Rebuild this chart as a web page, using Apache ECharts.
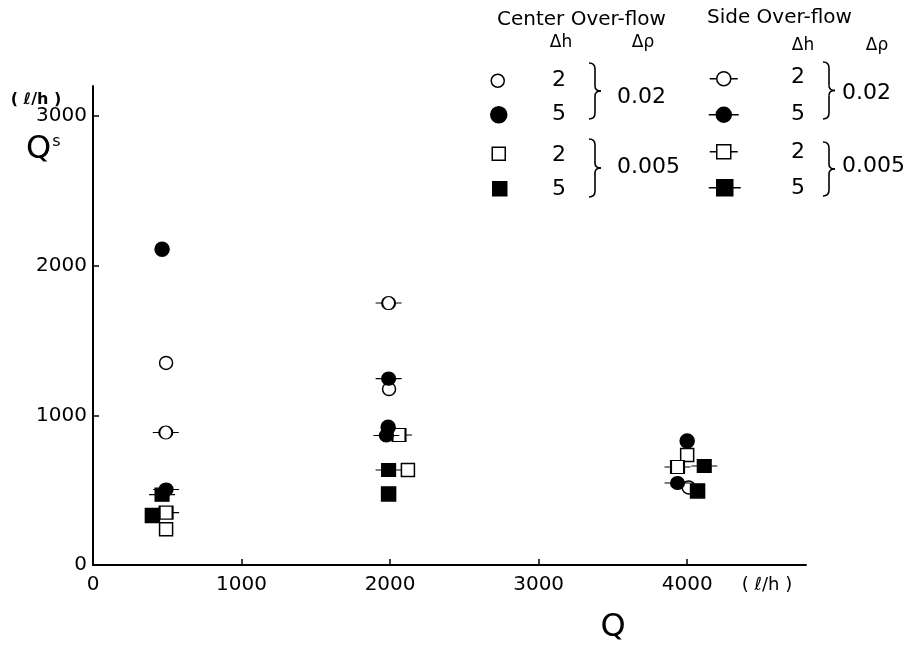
<!DOCTYPE html>
<html>
<head>
<meta charset="utf-8">
<script src="https://cdn.jsdelivr.net/npm/echarts@6/dist/echarts.min.js"></script>
<style>
  html, body { margin: 0; padding: 0; background: #fff; }
  #chart { width: 909px; height: 648px; }
</style>
</head>
<body>
<div id="chart"></div>
<script>
  // Q (l/h) , Qs (l/h)
  // Center Over-flow
  const cOpenCircle   = [[492, 1350], [1993, 1175], [4010, 518]];    // dh 2, drho 0.02
  const cFilledCircle = [[465, 2110], [1987, 920], [4000, 828]];     // dh 5, drho 0.02
  const cOpenSquare   = [[492, 238], [2120, 635], [4000, 735]];      // dh 2, drho 0.005
  const cFilledSquare = [[400, 330], [1990, 475], [4070, 495]];      // dh 5, drho 0.005
  // Side Over-flow
  const sOpenCircle   = [[490, 885], [1990, 1750]];
  const sFilledCircle = [[492, 505], [1990, 1245], [1975, 865], [3935, 548]];
  const sOpenSquare   = [[492, 350], [2060, 868], [3935, 655]];
  const sFilledSquare = [[465, 470], [1990, 635], [4115, 662]];

  const xTicks = [0, 1000, 2000, 3000, 4000];
  const yTicks = [0, 1000, 2000, 3000];

  const FONT = 'DejaVu Sans';
  // circle / square with a short tick on each side (side over-flow)
  const sideCircle = 'path://M0 6L6 6M18 6L24 6M6 6C6 2.686 8.686 0 12 0C15.314 0 18 2.686 18 6C18 9.314 15.314 12 12 12C8.686 12 6 9.314 6 6Z';
  const sideSquare = 'path://M0 6L6 6M18 6L24 6M6 0L18 0L18 12L6 12Z';

  function mk(name, data, symbol, size, filled) {
    return {
      type: 'scatter',
      name: name,
      data: data,
      symbol: symbol,
      symbolSize: size,
      itemStyle: { color: filled ? '#000' : '#fff', borderColor: '#000', borderWidth: 1.5, opacity: 1 },
      emphasis: { disabled: true }
    };
  }

  const series = [
    mk('C 2 0.02', cOpenCircle, 'circle', 13, false),
    mk('C 2 0.005', cOpenSquare, 'rect', 13, false),
    mk('S 2 0.02', sOpenCircle, sideCircle, [26, 13], false),
    mk('S 2 0.005', sOpenSquare, sideSquare, [26, 13], false),
    mk('C 5 0.02', cFilledCircle, 'circle', 14, true),
    mk('C 5 0.005', cFilledSquare, 'rect', 14, true),
    mk('S 5 0.02', sFilledCircle, sideCircle, [26, 13], true),
    mk('S 5 0.005', sFilledSquare, sideSquare, [26, 13], true)
  ];

  // legend marker rows
  const legendItems = [
    { name: 'C 2 0.02', icon: 'circle', x: 497, y: 80, w: 13, h: 13 },
    { name: 'C 5 0.02', icon: 'circle', x: 498, y: 114, w: 16, h: 16 },
    { name: 'C 2 0.005', icon: 'rect', x: 498, y: 153, w: 13, h: 13 },
    { name: 'C 5 0.005', icon: 'rect', x: 499, y: 188, w: 14, h: 14 },
    { name: 'S 2 0.02', icon: sideCircle, x: 723, y: 78, w: 28, h: 14 },
    { name: 'S 5 0.02', icon: sideCircle, x: 723, y: 114, w: 30, h: 15 },
    { name: 'S 2 0.005', icon: sideSquare, x: 723, y: 151, w: 28, h: 14 },
    { name: 'S 5 0.005', icon: sideSquare, x: 724, y: 187, w: 32, h: 16 }
  ];
  const legends = legendItems.map(function (it) {
    return {
      data: [{ name: it.name, icon: it.icon }],
      left: it.x - it.w / 2,
      top: it.y - it.h / 2,
      itemWidth: it.w,
      itemHeight: it.h,
      padding: 0,
      selectedMode: false,
      formatter: function () { return ''; },
      itemStyle: { borderColor: '#000', borderWidth: 1.5 }
    };
  });

  const braceStyle = { fill: 'none', stroke: '#000', lineWidth: 1.6 };
  function curve(x1, y1, cx, cy, x2, y2) {
    return { type: 'bezierCurve', silent: true, shape: { x1: x1, y1: y1, cpx1: cx, cpy1: cy, x2: x2, y2: y2 }, style: braceStyle };
  }
  function seg(x1, y1, x2, y2) {
    return { type: 'line', silent: true, shape: { x1: x1, y1: y1, x2: x2, y2: y2 }, style: braceStyle };
  }
  // curly brace "}" from y0 to y1
  function br(x, y0, y1) {
    const ym = (y0 + y1) / 2;
    return {
      type: 'group',
      children: [
        curve(x, y0, x + 6, y0, x + 6, y0 + 6),
        seg(x + 6, y0 + 6, x + 6, ym - 5),
        curve(x + 6, ym - 5, x + 6, ym, x + 12, ym),
        curve(x + 12, ym, x + 6, ym, x + 6, ym + 5),
        seg(x + 6, ym + 5, x + 6, y1 - 6),
        curve(x + 6, y1 - 6, x + 6, y1, x, y1)
      ]
    };
  }
  function txt(x, y, text, size, align, weight) {
    return {
      type: 'text', x: x, y: y, silent: true,
      style: { text: text, font: (weight || 'normal') + ' ' + size + 'px "' + FONT + '"', fill: '#000', align: align || 'center', verticalAlign: 'middle' }
    };
  }

  const graphics = [
    txt(497, 20, 'Center Over-flow', 20, 'left'),
    txt(707, 18, 'Side Over-flow', 20, 'left'),
    txt(561, 43, 'Δh', 17), txt(643, 43, 'Δρ', 17),
    txt(803, 46, 'Δh', 17), txt(877, 46, 'Δρ', 17),
    txt(559, 80, '2', 22), txt(559, 114, '5', 22),
    txt(559, 155, '2', 22), txt(559, 189, '5', 22),
    txt(798, 77, '2', 22), txt(798, 114, '5', 22),
    txt(798, 152, '2', 22), txt(798, 188, '5', 22),
    br(589, 63, 119), br(589, 139, 197),
    br(823, 62, 119), br(823, 142, 196),
    txt(617, 97, '0.02', 22, 'left'), txt(617, 167, '0.005', 22, 'left'),
    txt(842, 93, '0.02', 22, 'left'), txt(842, 166, '0.005', 22, 'left'),
    txt(36, 100, '( ℓ/h )', 16, 'center', 'bold'),
    {
      type: 'text', x: 26, y: 150, silent: true,
      style: {
        text: '{q|Q}{s|s}', verticalAlign: 'middle', align: 'left',
        rich: {
          q: { fontFamily: FONT, fontSize: 32, fill: '#000' },
          s: { fontFamily: FONT, fontSize: 16, fill: '#000', verticalAlign: 'top', padding: [0, 0, 14, 1] }
        }
      }
    },
    txt(767, 585, '( ℓ/h )', 18),
    txt(613, 628, 'Q', 32)
  ];

  const option = {
    backgroundColor: '#fff',
    animation: false,
    grid: { left: 93, right: 103, top: 86, bottom: 83 },
    xAxis: {
      type: 'value', min: 0, max: 4800,
      splitLine: { show: false },
      axisLine: { onZero: false, lineStyle: { color: '#000', width: 2 } },
      axisTick: { inside: true, length: 6, customValues: xTicks, lineStyle: { color: '#000', width: 1.5 } },
      axisLabel: {
        customValues: xTicks, margin: 10, color: '#000', fontFamily: FONT, fontSize: 20,
        formatter: function (v) { return String(v); }
      }
    },
    yAxis: {
      type: 'value', min: 0, max: 3200,
      splitLine: { show: false },
      axisLine: { show: true, onZero: false, lineStyle: { color: '#000', width: 2 } },
      axisTick: { show: true, inside: true, length: 6, customValues: yTicks, lineStyle: { color: '#000', width: 1.5 } },
      axisLabel: {
        customValues: yTicks, margin: 6, color: '#000', fontFamily: FONT, fontSize: 20,
        formatter: function (v) { return String(v); }
      }
    },
    legend: legends,
    graphic: graphics,
    series: series
  };

  const chartObj = echarts.init(document.getElementById('chart'));
  chartObj.setOption(option);
</script>
</body>
</html>
